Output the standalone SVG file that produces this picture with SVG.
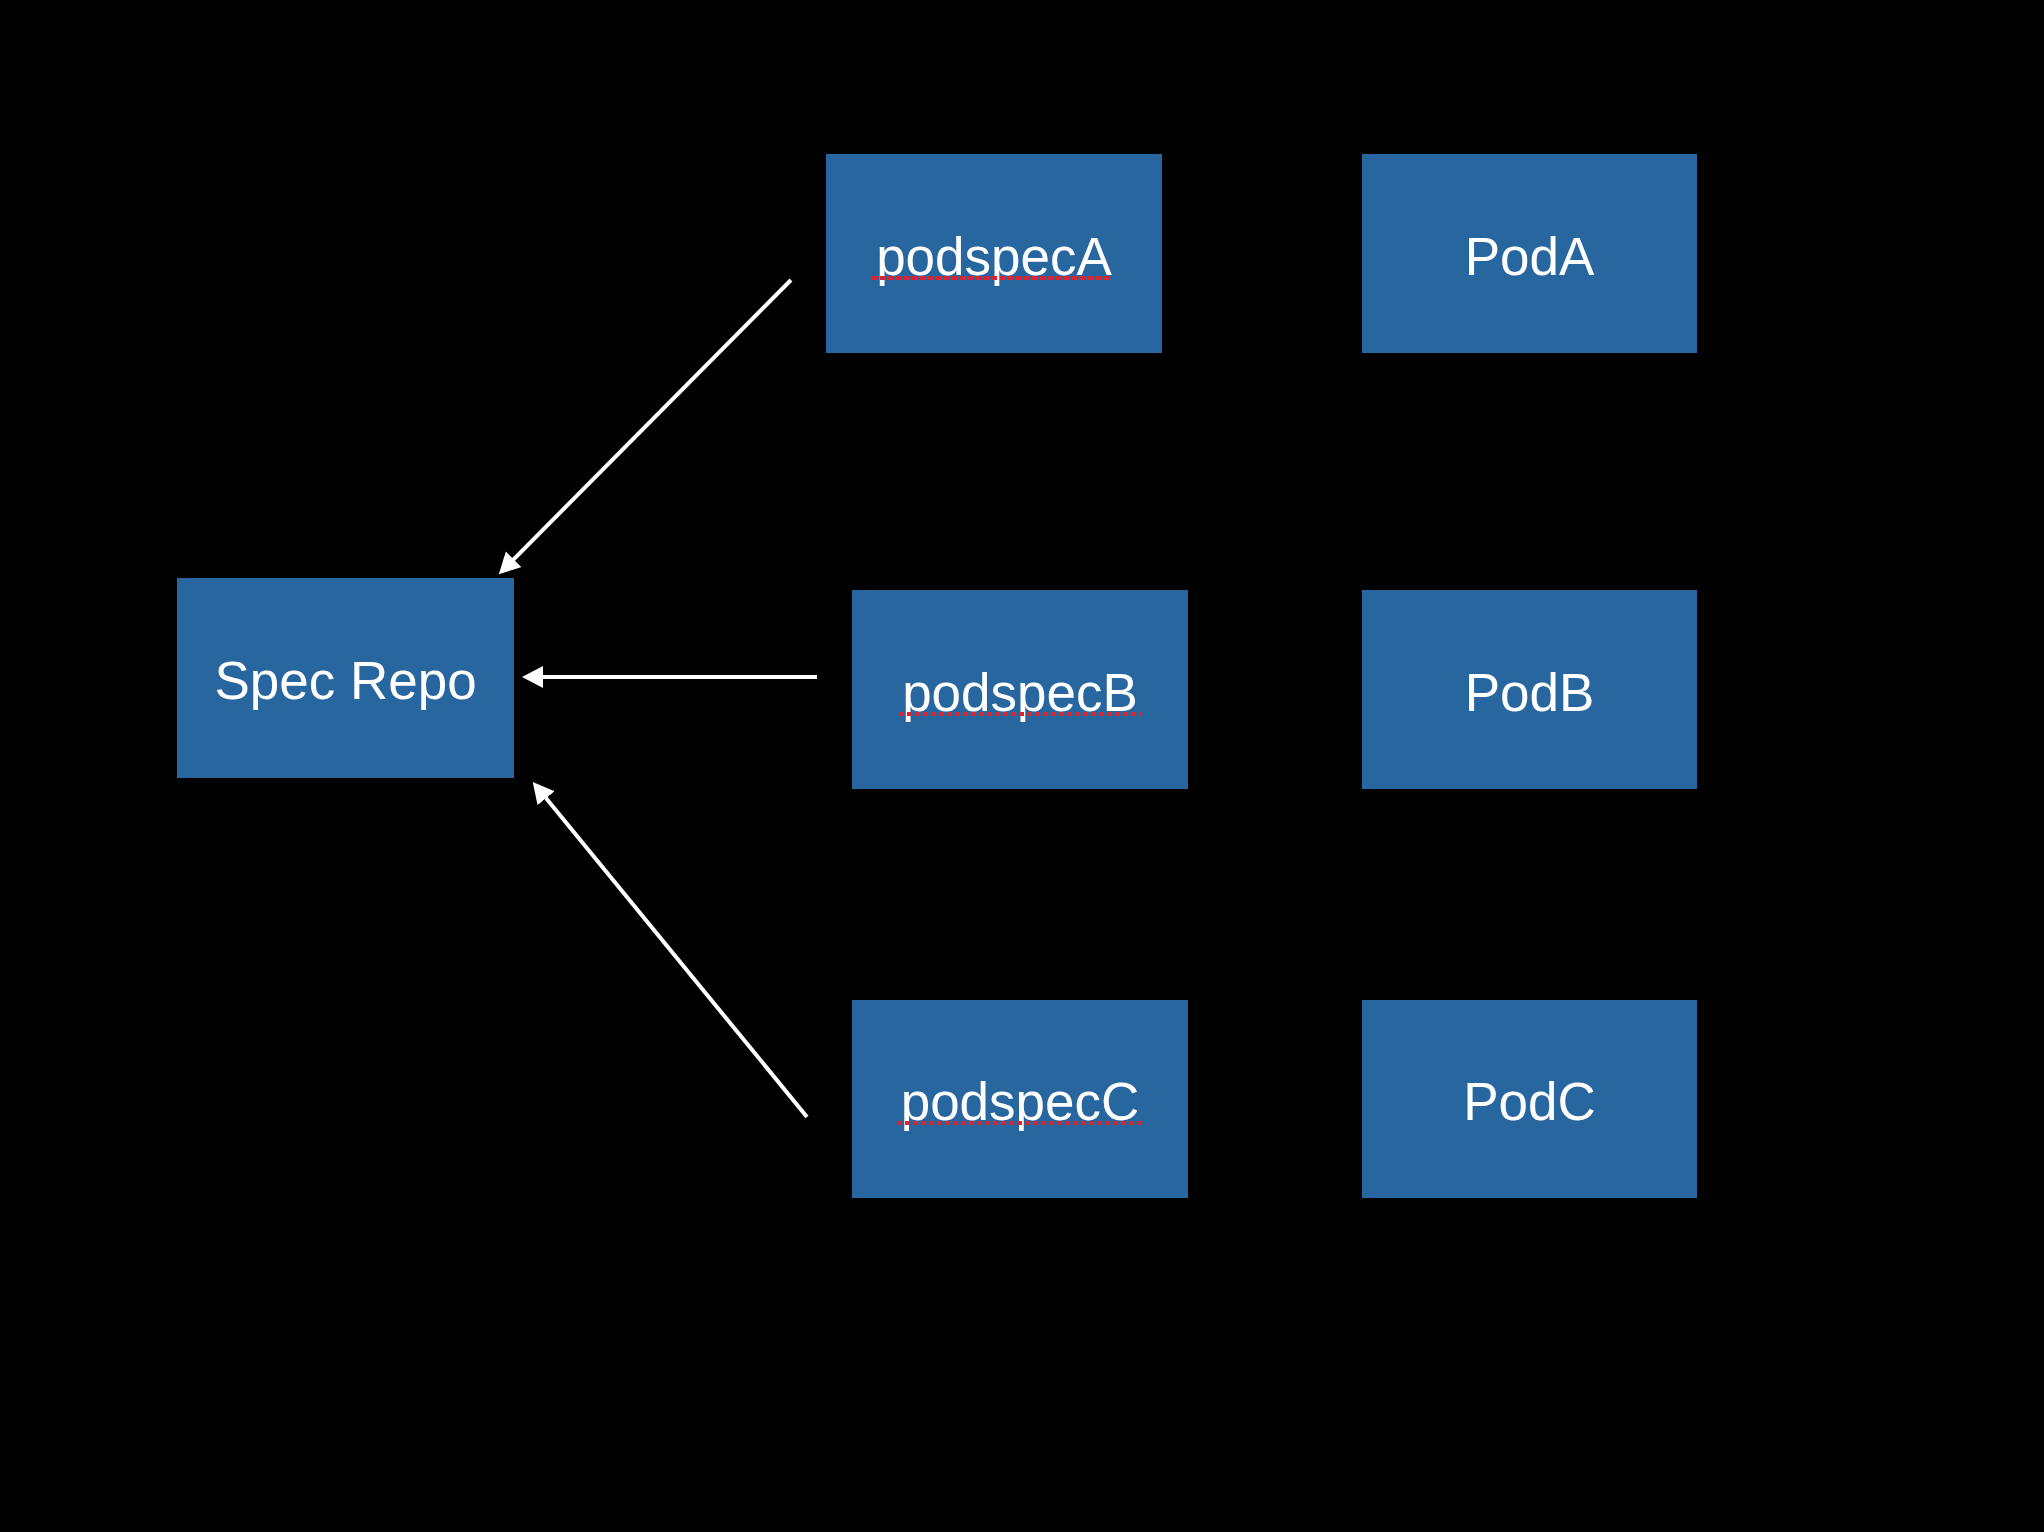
<svg xmlns="http://www.w3.org/2000/svg" width="2044" height="1532" viewBox="0 0 2044 1532">
<style>
.box{fill:#2866a0}
.lbl{font-family:"Liberation Sans",Arial,sans-serif;font-size:53px;fill:#ffffff;text-anchor:middle}
.conn{stroke:#ffffff;stroke-width:4;fill:none}
.spell{stroke:#e0222e;stroke-width:4;stroke-dasharray:5 3;fill:none}
</style>
<defs>
<marker id="ah" markerUnits="userSpaceOnUse" markerWidth="24" markerHeight="24" refX="8" refY="11" orient="auto">
<path d="M0,0 L21,11 L0,22 Z" fill="#ffffff"/>
</marker>
</defs>
<rect x="0" y="0" width="2044" height="1532" fill="#000000"/>
<g id="specrepo">
<rect class="box" x="177" y="578" width="337" height="200"/>
<text class="lbl" x="345.5" y="699">Spec Repo</text>
</g>
<g id="podspecA">
<rect class="box" x="826" y="154" width="336" height="199"/>
<text class="lbl" x="994" y="275">podspecA</text>
<line class="spell" x1="872" y1="278" x2="1110" y2="278"/>
</g>
<g id="podA">
<rect class="box" x="1362" y="154" width="335" height="199"/>
<text class="lbl" x="1529.5" y="275">PodA</text>
</g>
<g id="podspecB">
<rect class="box" x="852" y="590" width="336" height="199"/>
<text class="lbl" x="1020" y="711">podspecB</text>
<line class="spell" x1="899" y1="714" x2="1141" y2="714"/>
</g>
<g id="podB">
<rect class="box" x="1362" y="590" width="335" height="199"/>
<text class="lbl" x="1529.5" y="711">PodB</text>
</g>
<g id="podspecC">
<rect class="box" x="852" y="1000" width="336" height="198"/>
<text class="lbl" x="1020" y="1120">podspecC</text>
<line class="spell" x1="897" y1="1123" x2="1142" y2="1123"/>
</g>
<g id="podC">
<rect class="box" x="1362" y="1000" width="335" height="198"/>
<text class="lbl" x="1529.5" y="1120">PodC</text>
</g>
<g id="connectors">
<line class="conn" x1="791" y1="280" x2="508" y2="565" marker-end="url(#ah)"/>
<line class="conn" x1="817" y1="677" x2="535" y2="677" marker-end="url(#ah)"/>
<line class="conn" x1="807" y1="1117" x2="541" y2="792" marker-end="url(#ah)"/>
</g>
</svg>
